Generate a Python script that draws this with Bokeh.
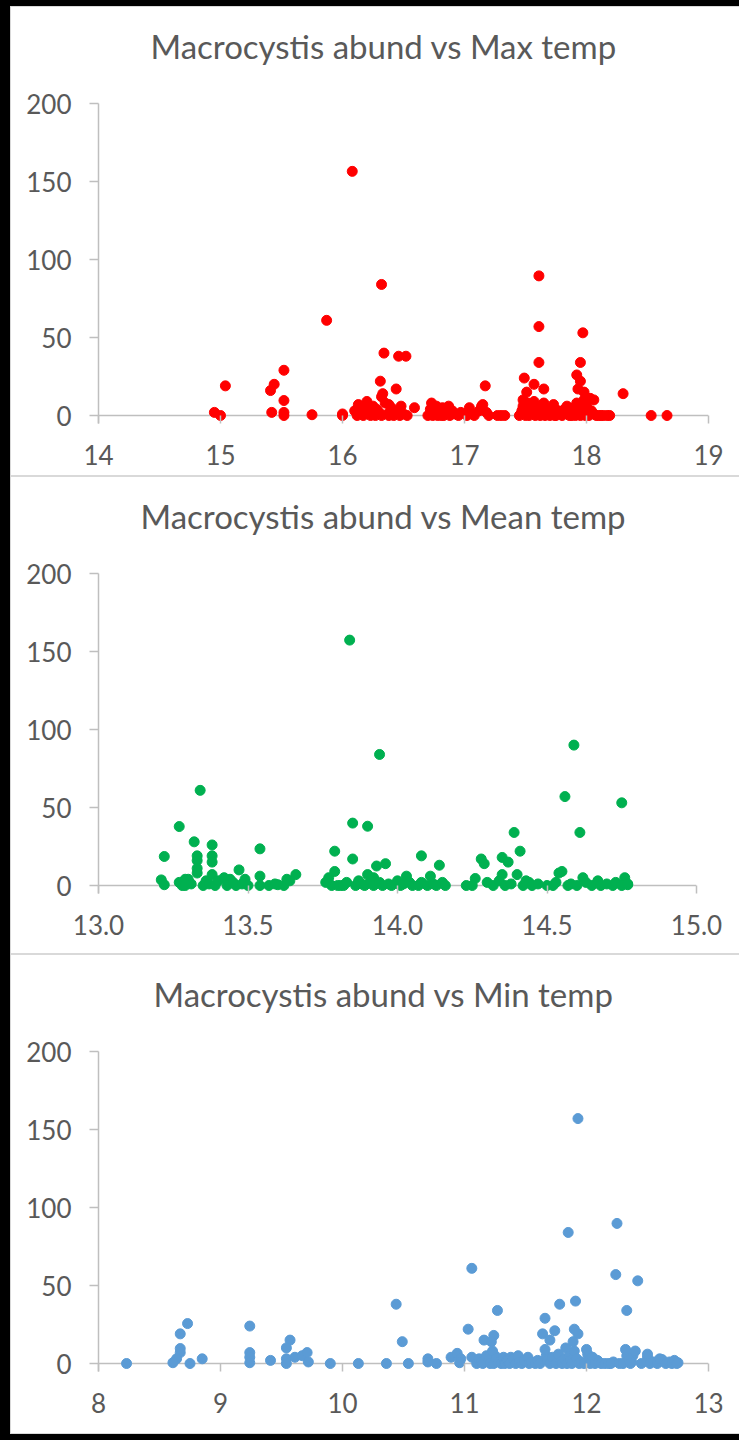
from bokeh.plotting import figure
from bokeh.layouts import column
from bokeh.models import Range1d, FixedTicker, Span, NumeralTickFormatter
from bokeh.embed import file_html
from bokeh.resources import INLINE
from bokeh.core.properties import value

# ---------------- data ----------------
titles = ["Macrocystis abund vs Max temp", "Macrocystis abund vs Mean temp", "Macrocystis abund vs Min temp"]
y_ticks = [0, 50, 100, 150, 200]
max_ticks = [14, 15, 16, 17, 18, 19]
mean_ticks = [13.0, 13.5, 14.0, 14.5, 15.0]
min_ticks = [8, 9, 10, 11, 12, 13]

max_temp = [14.95, 15.0, 15.04, 15.41, 15.44, 15.42, 15.52, 15.52, 15.52, 15.52, 15.75, 15.87, 16.08, 16.0, 16.0,
            16.32, 16.34, 16.31, 16.33, 16.32, 16.46, 16.52, 16.44, 16.38, 16.59, 17.17, 17.15,
            17.61, 17.61, 17.61, 17.49, 17.57, 17.65, 17.51, 17.48, 17.97, 17.95, 17.92, 17.95, 17.93, 17.98,
            18.03, 18.06, 18.30, 18.53, 18.66,
            16.1, 16.13, 16.15, 16.18, 16.2, 16.22, 16.25, 16.27, 16.28, 16.3, 16.35, 16.37, 16.4, 16.42, 16.45,
            16.48, 16.5, 16.53, 16.17, 16.23, 16.32, 16.38, 16.47, 16.12,
            16.7, 16.72, 16.73, 16.75, 16.77, 16.78, 16.8, 16.82, 16.83, 16.85, 16.87, 16.88, 16.9, 16.92, 16.95,
            16.97, 16.74, 16.81,
            17.02, 17.04, 17.06, 17.08, 17.12, 17.14, 17.18, 17.2, 17.27, 17.3, 17.33,
            17.45, 17.47, 17.48, 17.5, 17.52, 17.53, 17.55, 17.57, 17.58, 17.6, 17.62, 17.63, 17.65, 17.67, 17.68,
            17.7, 17.72, 17.73, 17.75, 17.77, 17.78, 17.8, 17.82, 17.84, 17.85, 17.87, 17.88, 17.9, 17.92, 17.93,
            17.95, 17.96, 17.98, 18.0, 18.01, 18.02, 18.04, 18.06, 18.08, 18.1, 18.12, 18.14, 18.17, 18.19,
            17.5, 17.58, 17.66, 17.74, 17.86, 17.91, 17.99]
max_abund = [2, 0, 19, 16, 20, 2, 29, 9.6, 2, 0, 0.5, 61, 156.5, 1, 0,
             84, 40, 22, 14, 12, 38, 38, 17, 7, 5, 19, 7,
             89.5, 57, 34, 24, 20, 17, 15, 10, 53, 34, 26, 22, 17, 15,
             11, 10, 14, 0, 0,
             3, 7, 1, 5, 9, 2, 6, 0, 4, 2, 8, 1, 5, 0, 3,
             6, 1, 0, 0, 0, 0, 0, 0, 0,
             0, 4, 8, 2, 6, 0, 3, 5, 0, 2, 6, 0, 3, 1, 0,
             2, 0, 0,
             0, 5, 1, 0, 3, 6, 2, 0, 0, 0, 0,
             0, 3, 6, 1, 8, 0, 4, 9, 2, 6, 0, 3, 8, 1, 4,
             0, 2, 7, 0, 3, 1, 0, 4, 6, 1, 3, 0, 5, 8, 2,
             0, 4, 10, 6, 2, 0, 3, 1, 0, 0, 0, 0, 0, 0,
             0, 0, 0, 0, 0, 0, 0]

mean_temp = [13.21, 13.22, 13.22, 13.27, 13.34, 13.32, 13.33, 13.33, 13.33, 13.33, 13.38, 13.38, 13.38, 13.38,
             13.29, 13.28, 13.47, 13.44, 13.49, 13.54, 13.54, 13.54, 13.60, 13.63, 13.66, 13.77, 13.78, 13.79,
             13.79, 13.84, 13.85, 13.85, 13.94, 13.90, 13.93, 13.96, 13.90, 13.92, 13.81, 14.08, 14.14, 14.03,
             14.11, 14.23, 14.26, 14.28, 14.29, 14.35, 14.37, 14.35, 14.39, 14.41, 14.40, 14.44, 14.55, 14.54,
             14.56, 14.59, 14.61, 14.62, 14.75, 14.76, 14.77,
             13.27, 13.29, 13.3, 13.31, 13.35, 13.36, 13.37, 13.39, 13.4, 13.42, 13.43, 13.45, 13.46, 13.48, 13.5,
             13.57, 13.59, 13.62, 13.64, 13.76, 13.8, 13.82, 13.83, 13.86, 13.87, 13.88, 13.89, 13.91, 13.92,
             13.94, 13.95, 13.97, 13.98, 14.0, 14.01, 14.02, 14.04, 14.05, 14.07, 14.08, 14.1, 14.12, 14.13,
             14.15, 14.16, 14.25, 14.3, 14.32, 14.34, 14.36, 14.38, 14.42, 14.43, 14.45, 14.47, 14.5, 14.52,
             14.53, 14.57, 14.58, 14.6, 14.63, 14.65, 14.67, 14.68, 14.7, 14.72, 14.73, 14.75, 14.77]
mean_abund = [3.6, 0.5, 18.6, 37.8, 61, 28, 19, 16, 11, 8, 26, 19, 15, 7,
              4, 0, 10, 4, 4, 23.5, 6, 0, 0.5, 4, 7, 5, 0, 22,
              9, 157.3, 40, 17, 84, 38, 12.5, 14, 7, 5, 0, 19, 13, 6,
              6, 0, 4.5, 17, 14, 18, 15, 7, 34, 22, 7, 2, 9, 8,
              57, 90, 34, 5, 53, 5, 0.5,
              2, 0, 4, 1, 0, 3, 1, 0, 3, 5, 0, 2, 0, 1, 0,
              0, 1, 0, 3, 2, 0, 0, 2, 0, 3, 1, 0, 3, 0,
              2, 0, 1, 0, 3, 0, 1, 2, 0, 0, 2, 0, 1, 0,
              2, 0, 0, 2, 0, 3, 0, 1, 0, 3, 0, 1, 0, 0,
              2, 0, 1, 0, 2, 0, 3, 0, 1, 0, 2, 0, 1]

min_temp = [8.23, 8.67, 8.73, 8.67, 8.67, 8.64, 8.61, 8.75, 8.85, 9.24, 9.24, 9.24, 9.24, 9.41, 9.57, 9.54,
            9.54, 9.54, 9.61, 9.67, 9.71, 9.72, 9.90, 10.13, 10.36, 10.44, 10.49, 10.54, 10.70, 10.70, 10.77,
            10.89, 10.94, 10.97, 10.96, 11.06, 11.03, 11.06, 11.16, 11.24, 11.22, 11.27, 11.25, 11.38, 11.50,
            11.66, 11.64, 11.74, 11.70, 11.67, 11.78, 11.83, 11.85, 11.91, 11.93, 11.90, 11.93, 11.89, 12.01,
            12.09, 12.22, 12.25, 12.24, 12.42, 12.33, 12.33, 12.38, 12.37, 12.50, 12.62, 12.75,
            11.1, 11.12, 11.14, 11.15, 11.18, 11.2, 11.21, 11.23, 11.24, 11.26, 11.28, 11.3, 11.32, 11.33, 11.35,
            11.37, 11.4, 11.42, 11.44, 11.45, 11.47, 11.49, 11.52, 11.53, 11.55, 11.58, 11.6, 11.62, 11.66,
            11.68, 11.7, 11.72, 11.75, 11.77, 11.79, 11.8, 11.82, 11.84, 11.86, 11.87, 11.88, 11.9, 11.92,
            11.94, 11.96, 11.98, 12.0, 12.02, 12.03, 12.05, 12.07, 12.1, 12.12, 12.15, 12.18, 12.2, 12.27,
            12.3, 12.32, 12.35, 12.36, 12.4, 12.45, 12.5, 12.52, 12.55, 12.58, 12.6, 12.65, 12.68, 12.7,
            12.72, 12.74]
min_abund = [0, 19, 25.6, 9.6, 7, 3, 0.5, 0, 3, 24, 7, 4, 0.5, 2, 15, 10,
             3, 0, 4, 5, 7, 1, 0, 0, 0, 38, 14, 0, 3, 1, 0,
             4, 6.5, 3, 0.5, 61, 22, 4, 15, 18, 14, 34, 5, 4, 2,
             29, 19, 21, 15, 5, 38, 10, 84, 40, 157, 22, 19, 14, 6,
             2, 1, 89.8, 57, 53, 34, 5, 5, 1, 4, 2.5, 0.5,
             0, 3, 1, 0, 5, 2, 0, 8, 0, 3, 1, 0, 4, 0, 2,
             0, 3, 0, 5, 1, 0, 2, 4, 0, 1, 0, 2, 0, 9,
             2, 0, 4, 0, 6, 1, 0, 3, 0, 5, 2, 0, 8, 3,
             0, 1, 0, 9, 2, 0, 4, 0, 1, 0, 0, 0, 0, 0,
             0, 9, 2, 0, 8, 0, 6, 0, 1, 0, 3, 0, 1, 0,
             2, 0]

# ---------------- styling ----------------
FONT = "Lato"
AXIS_GRAY = "#bfbfbf"
TEXT_GRAY = "#595959"
TITLE_H = 80
LEFT_BORDER = 87
PX_PER_Y = 312.3 / 200.0
Y_LO = -8 / PX_PER_Y
TITLE_LEFT_PAGE = [150, 140, 153]  # page x of each title's left edge
PAGE_FIG_LEFT = 11


def make_title(title, left_page, frame_w, right_border):
    # same horizontal frame as the chart below it, x in pixels from the frame's left edge
    t = figure(frame_width=frame_w, height=TITLE_H, x_range=Range1d(0, frame_w), y_range=Range1d(0, TITLE_H),
               min_border_left=LEFT_BORDER, min_border_right=right_border, min_border_top=0, min_border_bottom=0,
               output_backend="svg", toolbar_location=None)
    t.axis.visible = False
    t.grid.visible = False
    t.outline_line_color = None
    t.background_fill_color = None
    x_in_frame = left_page - PAGE_FIG_LEFT - LEFT_BORDER
    t.text(x=[x_in_frame], y=[TITLE_H - 38], text=[title], text_align="left", text_baseline="middle",
           text_font=value(FONT), text_font_size="33px", text_color=TEXT_GRAY)
    return t


def make_panel(xs, ys, color, ticks, fmt, frame_w, right_border, bottom_border):
    p = figure(frame_width=frame_w, frame_height=320,
               x_range=Range1d(ticks[0], ticks[-1]), y_range=Range1d(Y_LO, 200),
               min_border_left=LEFT_BORDER, min_border_right=right_border,
               min_border_top=96 - TITLE_H, min_border_bottom=bottom_border,
               output_backend="svg", toolbar_location=None)
    p.outline_line_color = None
    p.background_fill_color = None
    p.xgrid.visible = False
    p.ygrid.visible = False

    p.add_layout(Span(location=0, dimension="width", line_color=AXIS_GRAY, line_width=1.5, level="underlay"))
    p.scatter(xs, ys, size=10, color=color, line_color=color, marker="circle")

    xa = p.xaxis[0]
    xa.ticker = FixedTicker(ticks=ticks)
    xa.formatter = NumeralTickFormatter(format=fmt)
    xa.axis_line_color = None
    xa.major_tick_in = 8
    xa.major_tick_out = 0
    xa.major_tick_line_color = AXIS_GRAY
    xa.major_tick_line_width = 1.5
    xa.minor_tick_line_color = None
    xa.major_label_text_font = FONT
    xa.major_label_text_font_size = "26px"
    xa.major_label_text_color = TEXT_GRAY
    xa.major_label_standoff = 21

    ya = p.yaxis[0]
    ya.ticker = FixedTicker(ticks=y_ticks)
    ya.axis_line_color = AXIS_GRAY
    ya.axis_line_width = 1.5
    ya.major_tick_out = 9
    ya.major_tick_in = 0
    ya.major_tick_line_color = AXIS_GRAY
    ya.major_tick_line_width = 1.5
    ya.minor_tick_line_color = None
    ya.major_label_text_font = FONT
    ya.major_label_text_font_size = "26px"
    ya.major_label_text_color = TEXT_GRAY
    ya.major_label_standoff = 18
    return p


panel_specs = [
    (titles[0], max_temp, max_abund, "#ff0000", max_ticks, "0", 610, 31, 52),
    (titles[1], mean_temp, mean_abund, "#00b050", mean_ticks, "0.0", 598, 43, 60),
    (titles[2], min_temp, min_abund, "#5b9bd5", min_ticks, "0", 610, 31, 62),
]
panels = []
for i, (ttl, xs, ys, col, ticks, fmt, fw, rb, bb) in enumerate(panel_specs):
    panels.append(column(make_title(ttl, TITLE_LEFT_PAGE[i], fw, rb),
                         make_panel(xs, ys, col, ticks, fmt, fw, rb, bb),
                         spacing=0, styles={"background-color": "white"}))

inner = column(*panels, spacing=2,
               styles={"background-color": "#d9d9d9", "padding": "1px 0px 1px 1px"})
layout = column(inner, styles={"background-color": "black", "padding": "6px 0px 6px 10px"})

open("out.html", "w").write(file_html(layout, INLINE))
